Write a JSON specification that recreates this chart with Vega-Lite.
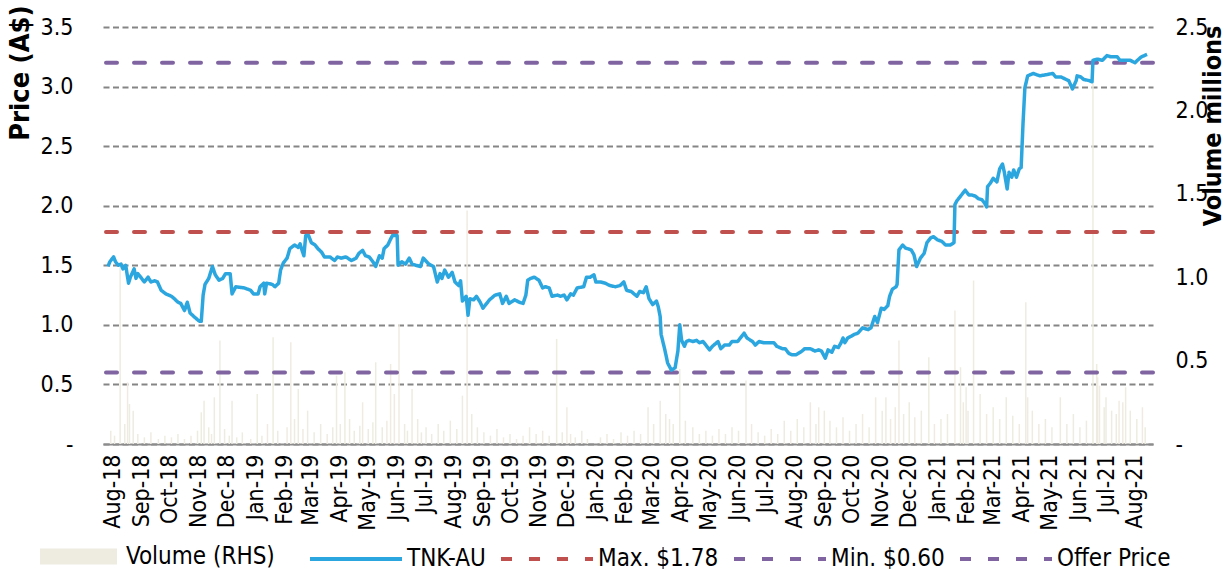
{
  "$schema": "https://vega.github.io/schema/vega-lite/v6.json",
  "width": 1050,
  "height": 417,
  "autosize": "none",
  "padding": {"left": 103, "top": 27, "right": 71, "bottom": 125},
  "background": "white",
  "config": {
    "view": {"stroke": null},
    "font": "DejaVu Sans Condensed",
    "axis": {"labelColor": "#000000", "titleColor": "#000000", "labelFont": "DejaVu Sans Condensed", "labelFontSize": 23}
  },
  "datasets": {
    "levels": [
      {"series": "Max. $1.78", "value": 1.78},
      {"series": "Min. $0.60", "value": 0.6},
      {"series": "Offer Price", "value": 3.2}
    ],
    "price": [
      {"date": "2018-07-27", "price": 1.49}, {"date": "2018-07-29", "price": 1.53}, {"date": "2018-08-02", "price": 1.57},
      {"date": "2018-08-04", "price": 1.53}, {"date": "2018-08-07", "price": 1.50}, {"date": "2018-08-10", "price": 1.51},
      {"date": "2018-08-12", "price": 1.47}, {"date": "2018-08-15", "price": 1.50}, {"date": "2018-08-18", "price": 1.35},
      {"date": "2018-08-20", "price": 1.40}, {"date": "2018-08-24", "price": 1.47}, {"date": "2018-08-26", "price": 1.39},
      {"date": "2018-08-28", "price": 1.43}, {"date": "2018-09-01", "price": 1.39}, {"date": "2018-09-04", "price": 1.36},
      {"date": "2018-09-08", "price": 1.40}, {"date": "2018-09-11", "price": 1.36}, {"date": "2018-09-15", "price": 1.37},
      {"date": "2018-09-18", "price": 1.36}, {"date": "2018-09-22", "price": 1.29}, {"date": "2018-09-27", "price": 1.26},
      {"date": "2018-10-03", "price": 1.24}, {"date": "2018-10-06", "price": 1.22}, {"date": "2018-10-10", "price": 1.19},
      {"date": "2018-10-13", "price": 1.18}, {"date": "2018-10-17", "price": 1.12}, {"date": "2018-10-20", "price": 1.19},
      {"date": "2018-10-23", "price": 1.10}, {"date": "2018-10-27", "price": 1.07}, {"date": "2018-11-02", "price": 1.03},
      {"date": "2018-11-04", "price": 1.03}, {"date": "2018-11-06", "price": 1.25}, {"date": "2018-11-08", "price": 1.34},
      {"date": "2018-11-12", "price": 1.39}, {"date": "2018-11-16", "price": 1.49}, {"date": "2018-11-19", "price": 1.42},
      {"date": "2018-11-23", "price": 1.375}, {"date": "2018-11-27", "price": 1.39}, {"date": "2018-11-30", "price": 1.43},
      {"date": "2018-12-05", "price": 1.43}, {"date": "2018-12-07", "price": 1.26}, {"date": "2018-12-11", "price": 1.32},
      {"date": "2018-12-20", "price": 1.31}, {"date": "2018-12-27", "price": 1.29}, {"date": "2018-12-30", "price": 1.26},
      {"date": "2019-01-04", "price": 1.26}, {"date": "2019-01-06", "price": 1.32}, {"date": "2019-01-10", "price": 1.35},
      {"date": "2019-01-11", "price": 1.26}, {"date": "2019-01-13", "price": 1.35}, {"date": "2019-01-19", "price": 1.34},
      {"date": "2019-01-22", "price": 1.32}, {"date": "2019-01-26", "price": 1.35}, {"date": "2019-01-28", "price": 1.46},
      {"date": "2019-01-31", "price": 1.52}, {"date": "2019-02-04", "price": 1.56}, {"date": "2019-02-07", "price": 1.64},
      {"date": "2019-02-12", "price": 1.67}, {"date": "2019-02-16", "price": 1.65}, {"date": "2019-02-18", "price": 1.68},
      {"date": "2019-02-19", "price": 1.65}, {"date": "2019-02-22", "price": 1.58}, {"date": "2019-02-24", "price": 1.75},
      {"date": "2019-02-27", "price": 1.75}, {"date": "2019-03-02", "price": 1.69}, {"date": "2019-03-06", "price": 1.67},
      {"date": "2019-03-09", "price": 1.64}, {"date": "2019-03-13", "price": 1.61}, {"date": "2019-03-16", "price": 1.57},
      {"date": "2019-03-22", "price": 1.57}, {"date": "2019-03-27", "price": 1.54}, {"date": "2019-03-30", "price": 1.57},
      {"date": "2019-04-03", "price": 1.56}, {"date": "2019-04-08", "price": 1.57}, {"date": "2019-04-14", "price": 1.54},
      {"date": "2019-04-19", "price": 1.56}, {"date": "2019-04-22", "price": 1.60}, {"date": "2019-04-26", "price": 1.625},
      {"date": "2019-04-29", "price": 1.58}, {"date": "2019-05-03", "price": 1.57}, {"date": "2019-05-07", "price": 1.53},
      {"date": "2019-05-10", "price": 1.49}, {"date": "2019-05-14", "price": 1.58}, {"date": "2019-05-17", "price": 1.56},
      {"date": "2019-05-19", "price": 1.64}, {"date": "2019-05-23", "price": 1.67}, {"date": "2019-05-26", "price": 1.72},
      {"date": "2019-05-28", "price": 1.75}, {"date": "2019-06-02", "price": 1.75}, {"date": "2019-06-03", "price": 1.50},
      {"date": "2019-06-07", "price": 1.53}, {"date": "2019-06-11", "price": 1.51}, {"date": "2019-06-15", "price": 1.56},
      {"date": "2019-06-18", "price": 1.51}, {"date": "2019-06-22", "price": 1.50}, {"date": "2019-06-27", "price": 1.49},
      {"date": "2019-06-30", "price": 1.56}, {"date": "2019-07-06", "price": 1.51}, {"date": "2019-07-11", "price": 1.49},
      {"date": "2019-07-15", "price": 1.36}, {"date": "2019-07-18", "price": 1.43}, {"date": "2019-07-20", "price": 1.39},
      {"date": "2019-07-23", "price": 1.46}, {"date": "2019-07-27", "price": 1.40}, {"date": "2019-07-31", "price": 1.44},
      {"date": "2019-08-03", "price": 1.36}, {"date": "2019-08-07", "price": 1.33}, {"date": "2019-08-09", "price": 1.37},
      {"date": "2019-08-11", "price": 1.20}, {"date": "2019-08-15", "price": 1.24}, {"date": "2019-08-17", "price": 1.08},
      {"date": "2019-08-19", "price": 1.22}, {"date": "2019-08-23", "price": 1.21}, {"date": "2019-08-26", "price": 1.24},
      {"date": "2019-08-30", "price": 1.19}, {"date": "2019-09-02", "price": 1.14}, {"date": "2019-09-06", "price": 1.18},
      {"date": "2019-09-09", "price": 1.21}, {"date": "2019-09-15", "price": 1.25}, {"date": "2019-09-20", "price": 1.26},
      {"date": "2019-09-23", "price": 1.18}, {"date": "2019-09-27", "price": 1.24}, {"date": "2019-09-30", "price": 1.18},
      {"date": "2019-10-06", "price": 1.21}, {"date": "2019-10-11", "price": 1.19}, {"date": "2019-10-15", "price": 1.18},
      {"date": "2019-10-18", "price": 1.25}, {"date": "2019-10-20", "price": 1.375}, {"date": "2019-10-23", "price": 1.39},
      {"date": "2019-10-27", "price": 1.40}, {"date": "2019-11-01", "price": 1.375}, {"date": "2019-11-05", "price": 1.31},
      {"date": "2019-11-08", "price": 1.32}, {"date": "2019-11-12", "price": 1.31}, {"date": "2019-11-15", "price": 1.24},
      {"date": "2019-11-21", "price": 1.25}, {"date": "2019-11-24", "price": 1.24}, {"date": "2019-11-28", "price": 1.25},
      {"date": "2019-12-01", "price": 1.21}, {"date": "2019-12-05", "price": 1.26}, {"date": "2019-12-08", "price": 1.25},
      {"date": "2019-12-12", "price": 1.31}, {"date": "2019-12-19", "price": 1.32}, {"date": "2019-12-22", "price": 1.40},
      {"date": "2019-12-26", "price": 1.40}, {"date": "2019-12-30", "price": 1.42}, {"date": "2020-01-01", "price": 1.36},
      {"date": "2020-01-06", "price": 1.36}, {"date": "2020-01-11", "price": 1.35}, {"date": "2020-01-16", "price": 1.33},
      {"date": "2020-01-22", "price": 1.32}, {"date": "2020-01-27", "price": 1.33}, {"date": "2020-01-31", "price": 1.36},
      {"date": "2020-02-03", "price": 1.29}, {"date": "2020-02-08", "price": 1.28}, {"date": "2020-02-14", "price": 1.24},
      {"date": "2020-02-17", "price": 1.28}, {"date": "2020-02-21", "price": 1.27}, {"date": "2020-02-24", "price": 1.32},
      {"date": "2020-02-27", "price": 1.22}, {"date": "2020-03-02", "price": 1.17}, {"date": "2020-03-06", "price": 1.20},
      {"date": "2020-03-08", "price": 1.15}, {"date": "2020-03-10", "price": 1.07}, {"date": "2020-03-11", "price": 0.92},
      {"date": "2020-03-15", "price": 0.79}, {"date": "2020-03-18", "price": 0.68}, {"date": "2020-03-22", "price": 0.62},
      {"date": "2020-03-26", "price": 0.64}, {"date": "2020-03-29", "price": 0.78}, {"date": "2020-03-31", "price": 1.00},
      {"date": "2020-04-02", "price": 0.87}, {"date": "2020-04-05", "price": 0.82}, {"date": "2020-04-07", "price": 0.86},
      {"date": "2020-04-10", "price": 0.87}, {"date": "2020-04-14", "price": 0.86}, {"date": "2020-04-18", "price": 0.87},
      {"date": "2020-04-21", "price": 0.85}, {"date": "2020-04-25", "price": 0.86}, {"date": "2020-04-28", "price": 0.83},
      {"date": "2020-05-02", "price": 0.79}, {"date": "2020-05-05", "price": 0.82}, {"date": "2020-05-11", "price": 0.86},
      {"date": "2020-05-14", "price": 0.80}, {"date": "2020-05-18", "price": 0.83}, {"date": "2020-05-23", "price": 0.83},
      {"date": "2020-05-26", "price": 0.86}, {"date": "2020-06-01", "price": 0.86}, {"date": "2020-06-04", "price": 0.89},
      {"date": "2020-06-08", "price": 0.93}, {"date": "2020-06-11", "price": 0.89}, {"date": "2020-06-17", "price": 0.86},
      {"date": "2020-06-20", "price": 0.83}, {"date": "2020-06-24", "price": 0.86}, {"date": "2020-06-29", "price": 0.85},
      {"date": "2020-07-04", "price": 0.85}, {"date": "2020-07-10", "price": 0.85}, {"date": "2020-07-13", "price": 0.82},
      {"date": "2020-07-19", "price": 0.80}, {"date": "2020-07-22", "price": 0.80}, {"date": "2020-07-26", "price": 0.76},
      {"date": "2020-07-29", "price": 0.75}, {"date": "2020-08-03", "price": 0.75}, {"date": "2020-08-09", "price": 0.78},
      {"date": "2020-08-12", "price": 0.80}, {"date": "2020-08-18", "price": 0.80}, {"date": "2020-08-23", "price": 0.78},
      {"date": "2020-08-27", "price": 0.79}, {"date": "2020-08-30", "price": 0.78}, {"date": "2020-09-03", "price": 0.72},
      {"date": "2020-09-06", "price": 0.79}, {"date": "2020-09-10", "price": 0.77}, {"date": "2020-09-13", "price": 0.82},
      {"date": "2020-09-17", "price": 0.81}, {"date": "2020-09-20", "price": 0.85}, {"date": "2020-09-22", "price": 0.89},
      {"date": "2020-09-24", "price": 0.85}, {"date": "2020-09-27", "price": 0.89}, {"date": "2020-10-01", "price": 0.905},
      {"date": "2020-10-04", "price": 0.92}, {"date": "2020-10-08", "price": 0.93}, {"date": "2020-10-13", "price": 0.975},
      {"date": "2020-10-19", "price": 0.96}, {"date": "2020-10-22", "price": 0.975}, {"date": "2020-10-26", "price": 1.07},
      {"date": "2020-10-29", "price": 1.02}, {"date": "2020-11-02", "price": 1.14}, {"date": "2020-11-05", "price": 1.13},
      {"date": "2020-11-09", "price": 1.16}, {"date": "2020-11-11", "price": 1.24}, {"date": "2020-11-14", "price": 1.30},
      {"date": "2020-11-18", "price": 1.32}, {"date": "2020-11-19", "price": 1.34}, {"date": "2020-11-21", "price": 1.63},
      {"date": "2020-11-25", "price": 1.67}, {"date": "2020-11-28", "price": 1.645}, {"date": "2020-12-04", "price": 1.63},
      {"date": "2020-12-07", "price": 1.59}, {"date": "2020-12-10", "price": 1.49}, {"date": "2020-12-14", "price": 1.56},
      {"date": "2020-12-18", "price": 1.60}, {"date": "2020-12-21", "price": 1.69}, {"date": "2020-12-25", "price": 1.73},
      {"date": "2020-12-28", "price": 1.74}, {"date": "2021-01-01", "price": 1.715}, {"date": "2021-01-06", "price": 1.70},
      {"date": "2021-01-10", "price": 1.67}, {"date": "2021-01-15", "price": 1.67}, {"date": "2021-01-19", "price": 1.69},
      {"date": "2021-01-20", "price": 2.01}, {"date": "2021-01-22", "price": 2.04}, {"date": "2021-01-26", "price": 2.08},
      {"date": "2021-01-31", "price": 2.13}, {"date": "2021-02-04", "price": 2.09}, {"date": "2021-02-07", "price": 2.09},
      {"date": "2021-02-11", "price": 2.08}, {"date": "2021-02-14", "price": 2.06}, {"date": "2021-02-18", "price": 2.05},
      {"date": "2021-02-21", "price": 2.02}, {"date": "2021-02-23", "price": 1.99}, {"date": "2021-02-24", "price": 2.16},
      {"date": "2021-02-27", "price": 2.19}, {"date": "2021-03-02", "price": 2.23}, {"date": "2021-03-06", "price": 2.20},
      {"date": "2021-03-09", "price": 2.31}, {"date": "2021-03-12", "price": 2.35}, {"date": "2021-03-14", "price": 2.28},
      {"date": "2021-03-17", "price": 2.14}, {"date": "2021-03-19", "price": 2.28}, {"date": "2021-03-22", "price": 2.24},
      {"date": "2021-03-24", "price": 2.30}, {"date": "2021-03-27", "price": 2.24}, {"date": "2021-03-30", "price": 2.31},
      {"date": "2021-04-01", "price": 2.32}, {"date": "2021-04-03", "price": 2.69}, {"date": "2021-04-05", "price": 2.99},
      {"date": "2021-04-08", "price": 3.09}, {"date": "2021-04-14", "price": 3.11}, {"date": "2021-04-21", "price": 3.09},
      {"date": "2021-04-28", "price": 3.10}, {"date": "2021-05-05", "price": 3.11}, {"date": "2021-05-08", "price": 3.08},
      {"date": "2021-05-14", "price": 3.08}, {"date": "2021-05-19", "price": 3.06}, {"date": "2021-05-22", "price": 3.05},
      {"date": "2021-05-26", "price": 2.98}, {"date": "2021-05-30", "price": 3.05}, {"date": "2021-05-31", "price": 3.09},
      {"date": "2021-06-04", "price": 3.08}, {"date": "2021-06-07", "price": 3.06}, {"date": "2021-06-13", "price": 3.05},
      {"date": "2021-06-16", "price": 3.04}, {"date": "2021-06-17", "price": 3.22}, {"date": "2021-06-22", "price": 3.23},
      {"date": "2021-06-27", "price": 3.22}, {"date": "2021-07-02", "price": 3.26}, {"date": "2021-07-06", "price": 3.25},
      {"date": "2021-07-09", "price": 3.25}, {"date": "2021-07-13", "price": 3.25}, {"date": "2021-07-16", "price": 3.22},
      {"date": "2021-07-22", "price": 3.22}, {"date": "2021-07-27", "price": 3.22}, {"date": "2021-08-01", "price": 3.20},
      {"date": "2021-08-05", "price": 3.23}, {"date": "2021-08-08", "price": 3.25}, {"date": "2021-08-14", "price": 3.27}
    ],
    "volume": [
      {"date": "2018-07-30", "vol": 0.08}, {"date": "2018-08-03", "vol": 0.05}, {"date": "2018-08-09", "vol": 1.06},
      {"date": "2018-08-14", "vol": 0.12}, {"date": "2018-08-17", "vol": 0.37}, {"date": "2018-08-19", "vol": 0.24},
      {"date": "2018-08-23", "vol": 0.2}, {"date": "2018-08-28", "vol": 0.06}, {"date": "2018-09-04", "vol": 0.04},
      {"date": "2018-09-11", "vol": 0.07}, {"date": "2018-09-19", "vol": 0.03}, {"date": "2018-09-26", "vol": 0.05},
      {"date": "2018-10-03", "vol": 0.04}, {"date": "2018-10-10", "vol": 0.06}, {"date": "2018-10-17", "vol": 0.03},
      {"date": "2018-10-24", "vol": 0.05}, {"date": "2018-10-31", "vol": 0.08}, {"date": "2018-11-04", "vol": 0.19},
      {"date": "2018-11-07", "vol": 0.26}, {"date": "2018-11-12", "vol": 0.1}, {"date": "2018-11-15", "vol": 0.06},
      {"date": "2018-11-18", "vol": 0.28}, {"date": "2018-11-24", "vol": 0.62}, {"date": "2018-11-29", "vol": 0.09},
      {"date": "2018-12-04", "vol": 0.05}, {"date": "2018-12-07", "vol": 0.26}, {"date": "2018-12-12", "vol": 0.04},
      {"date": "2018-12-18", "vol": 0.07}, {"date": "2018-12-27", "vol": 0.03}, {"date": "2019-01-03", "vol": 0.3},
      {"date": "2019-01-08", "vol": 0.05}, {"date": "2019-01-14", "vol": 0.12}, {"date": "2019-01-20", "vol": 0.64},
      {"date": "2019-01-25", "vol": 0.08}, {"date": "2019-02-04", "vol": 0.1}, {"date": "2019-02-08", "vol": 0.61},
      {"date": "2019-02-12", "vol": 0.15}, {"date": "2019-02-16", "vol": 0.33}, {"date": "2019-02-21", "vol": 0.09},
      {"date": "2019-02-26", "vol": 0.2}, {"date": "2019-03-05", "vol": 0.07}, {"date": "2019-03-12", "vol": 0.12},
      {"date": "2019-03-19", "vol": 0.06}, {"date": "2019-03-25", "vol": 0.1}, {"date": "2019-03-29", "vol": 0.41},
      {"date": "2019-04-02", "vol": 0.12}, {"date": "2019-04-07", "vol": 0.43}, {"date": "2019-04-12", "vol": 0.15},
      {"date": "2019-04-17", "vol": 0.08}, {"date": "2019-04-23", "vol": 0.11}, {"date": "2019-04-26", "vol": 0.25},
      {"date": "2019-05-02", "vol": 0.09}, {"date": "2019-05-07", "vol": 0.13}, {"date": "2019-05-10", "vol": 0.49},
      {"date": "2019-05-17", "vol": 0.1}, {"date": "2019-05-22", "vol": 0.14}, {"date": "2019-05-26", "vol": 0.48},
      {"date": "2019-05-30", "vol": 0.3}, {"date": "2019-06-04", "vol": 0.72}, {"date": "2019-06-10", "vol": 0.12},
      {"date": "2019-06-13", "vol": 0.08}, {"date": "2019-06-18", "vol": 0.33}, {"date": "2019-06-24", "vol": 0.15},
      {"date": "2019-06-28", "vol": 0.07}, {"date": "2019-07-03", "vol": 0.1}, {"date": "2019-07-09", "vol": 0.06},
      {"date": "2019-07-16", "vol": 0.12}, {"date": "2019-07-22", "vol": 0.08}, {"date": "2019-07-29", "vol": 0.14},
      {"date": "2019-08-05", "vol": 0.09}, {"date": "2019-08-11", "vol": 0.29}, {"date": "2019-08-16", "vol": 1.4},
      {"date": "2019-08-21", "vol": 0.18}, {"date": "2019-08-27", "vol": 0.1}, {"date": "2019-09-03", "vol": 0.07},
      {"date": "2019-09-10", "vol": 0.05}, {"date": "2019-09-17", "vol": 0.09}, {"date": "2019-09-24", "vol": 0.04},
      {"date": "2019-10-01", "vol": 0.06}, {"date": "2019-10-08", "vol": 0.03}, {"date": "2019-10-15", "vol": 0.05},
      {"date": "2019-10-22", "vol": 0.1}, {"date": "2019-10-29", "vol": 0.06}, {"date": "2019-11-05", "vol": 0.08},
      {"date": "2019-11-12", "vol": 0.05}, {"date": "2019-11-20", "vol": 0.63}, {"date": "2019-11-26", "vol": 0.07},
      {"date": "2019-12-01", "vol": 0.22}, {"date": "2019-12-05", "vol": 0.06}, {"date": "2019-12-10", "vol": 0.04},
      {"date": "2019-12-17", "vol": 0.08}, {"date": "2019-12-23", "vol": 0.03}, {"date": "2020-01-06", "vol": 0.04},
      {"date": "2020-01-13", "vol": 0.06}, {"date": "2020-01-20", "vol": 0.03}, {"date": "2020-01-28", "vol": 0.07},
      {"date": "2020-02-04", "vol": 0.05}, {"date": "2020-02-11", "vol": 0.08}, {"date": "2020-02-18", "vol": 0.06},
      {"date": "2020-02-26", "vol": 0.22}, {"date": "2020-03-03", "vol": 0.12}, {"date": "2020-03-10", "vol": 0.26},
      {"date": "2020-03-16", "vol": 0.18}, {"date": "2020-03-20", "vol": 0.15}, {"date": "2020-03-24", "vol": 0.12},
      {"date": "2020-03-31", "vol": 0.45}, {"date": "2020-04-06", "vol": 0.14}, {"date": "2020-04-14", "vol": 0.1},
      {"date": "2020-04-21", "vol": 0.06}, {"date": "2020-04-28", "vol": 0.08}, {"date": "2020-05-05", "vol": 0.05},
      {"date": "2020-05-12", "vol": 0.09}, {"date": "2020-05-19", "vol": 0.06}, {"date": "2020-05-26", "vol": 0.1},
      {"date": "2020-06-02", "vol": 0.08}, {"date": "2020-06-10", "vol": 0.38}, {"date": "2020-06-16", "vol": 0.12},
      {"date": "2020-06-23", "vol": 0.07}, {"date": "2020-06-30", "vol": 0.05}, {"date": "2020-07-07", "vol": 0.09},
      {"date": "2020-07-14", "vol": 0.06}, {"date": "2020-07-21", "vol": 0.14}, {"date": "2020-07-28", "vol": 0.08},
      {"date": "2020-08-04", "vol": 0.15}, {"date": "2020-08-11", "vol": 0.1}, {"date": "2020-08-18", "vol": 0.25},
      {"date": "2020-08-24", "vol": 0.12}, {"date": "2020-08-27", "vol": 0.22}, {"date": "2020-09-02", "vol": 0.2},
      {"date": "2020-09-08", "vol": 0.14}, {"date": "2020-09-15", "vol": 0.1}, {"date": "2020-09-22", "vol": 0.16},
      {"date": "2020-09-29", "vol": 0.08}, {"date": "2020-10-06", "vol": 0.12}, {"date": "2020-10-13", "vol": 0.18},
      {"date": "2020-10-20", "vol": 0.1}, {"date": "2020-10-27", "vol": 0.28}, {"date": "2020-11-03", "vol": 0.2},
      {"date": "2020-11-07", "vol": 0.28}, {"date": "2020-11-12", "vol": 0.15}, {"date": "2020-11-17", "vol": 0.22},
      {"date": "2020-11-21", "vol": 0.62}, {"date": "2020-11-26", "vol": 0.18}, {"date": "2020-12-02", "vol": 0.25},
      {"date": "2020-12-08", "vol": 0.16}, {"date": "2020-12-15", "vol": 0.2}, {"date": "2020-12-23", "vol": 0.52},
      {"date": "2020-12-29", "vol": 0.12}, {"date": "2021-01-05", "vol": 0.15}, {"date": "2021-01-12", "vol": 0.18},
      {"date": "2021-01-20", "vol": 0.8}, {"date": "2021-01-26", "vol": 0.46}, {"date": "2021-01-29", "vol": 0.25},
      {"date": "2021-02-01", "vol": 0.34}, {"date": "2021-02-03", "vol": 0.2}, {"date": "2021-02-09", "vol": 0.98},
      {"date": "2021-02-16", "vol": 0.3}, {"date": "2021-02-23", "vol": 0.18}, {"date": "2021-03-02", "vol": 0.22},
      {"date": "2021-03-09", "vol": 0.15}, {"date": "2021-03-16", "vol": 0.28}, {"date": "2021-03-23", "vol": 0.17},
      {"date": "2021-03-30", "vol": 0.12}, {"date": "2021-04-06", "vol": 0.85}, {"date": "2021-04-08", "vol": 0.28},
      {"date": "2021-04-13", "vol": 0.2}, {"date": "2021-04-20", "vol": 0.12}, {"date": "2021-04-27", "vol": 0.15},
      {"date": "2021-05-04", "vol": 0.1}, {"date": "2021-05-13", "vol": 0.28}, {"date": "2021-05-20", "vol": 0.12},
      {"date": "2021-05-27", "vol": 0.18}, {"date": "2021-06-03", "vol": 0.1}, {"date": "2021-06-10", "vol": 0.14},
      {"date": "2021-06-17", "vol": 2.2}, {"date": "2021-06-21", "vol": 0.48}, {"date": "2021-06-22", "vol": 0.4},
      {"date": "2021-06-24", "vol": 0.35}, {"date": "2021-06-29", "vol": 0.22}, {"date": "2021-07-01", "vol": 0.28},
      {"date": "2021-07-07", "vol": 0.2}, {"date": "2021-07-12", "vol": 0.18}, {"date": "2021-07-15", "vol": 0.26},
      {"date": "2021-07-19", "vol": 0.25}, {"date": "2021-07-22", "vol": 0.34}, {"date": "2021-07-27", "vol": 0.2},
      {"date": "2021-08-03", "vol": 0.15}, {"date": "2021-08-09", "vol": 0.22}, {"date": "2021-08-12", "vol": 0.1}
    ]
  },
  "layer": [
    {
      "data": {"name": "volume"},
      "mark": {"type": "bar", "width": 1.5},
      "encoding": {
        "x": {
          "field": "date", "type": "temporal",
          "scale": {"domain": [{"year": 2018, "month": 7, "date": 27, "utc": true}, {"year": 2021, "month": 8, "date": 15, "utc": true}]},
          "axis": {
            "title": null, "format": "%b-%y", "tickCount": {"interval": "month", "step": 1},
            "labelAngle": -90, "labelPadding": 10, "labelFlush": false, "labelOverlap": false,
            "ticks": false, "grid": false, "domain": true, "domainColor": "#8c8c8c", "domainWidth": 2
          }
        },
        "y": {
          "field": "vol", "type": "quantitative",
          "scale": {"domain": [0, 2.5]},
          "axis": {
            "orient": "right", "values": [0, 0.5, 1, 1.5, 2, 2.5],
            "labelExpr": "datum.value == 0 ? '-' : format(datum.value, '.1f')",
            "labelPadding": 22, "ticks": false, "domain": false, "grid": false,
            "title": "Volume millions", "titleFont": "DejaVu Sans Condensed", "titleFontWeight": "bold", "titleFontSize": 25,
            "titleAngle": -90, "titleAlign": "right", "titleBaseline": "middle", "titleX": 59, "titleY": -2
          }
        },
        "fill": {
          "datum": "Volume (RHS)", "type": "nominal",
          "scale": {"domain": ["Volume (RHS)"], "range": ["#eeece1"]},
          "legend": {
            "title": null, "orient": "none", "legendX": -63, "legendY": 491,
            "symbolType": "M-1,-0.21H1V0.21H-1Z", "symbolSize": 5929, "symbolStrokeWidth": 0,
            "labelFontSize": 24, "labelOffset": 9, "labelColor": "#000000", "padding": 0
          }
        }
      }
    },
    {
      "layer": [
        {
          "data": {"name": "levels"},
          "mark": {"type": "rule", "strokeWidth": 4, "strokeCap": "round"},
          "encoding": {
            "y": {
              "field": "value", "type": "quantitative",
              "scale": {"domain": [0, 3.5]},
              "axis": {
                "orient": "left", "values": [0, 0.5, 1, 1.5, 2, 2.5, 3, 3.5],
                "labelExpr": "datum.value == 0 ? '-' : format(datum.value, '.1f')",
                "labelPadding": 30, "ticks": false, "domain": false,
                "grid": true, "gridColor": "#858585", "gridWidth": 2, "gridDash": [6, 3.5],
                "title": "Price (A$)", "titleFont": "DejaVu Sans Condensed", "titleFontWeight": "bold", "titleFontSize": 27,
                "titleAngle": -90, "titleAlign": "right", "titleBaseline": "middle", "titleX": -83, "titleY": -22
              }
            },
            "color": {
              "field": "series", "type": "nominal",
              "scale": {"domain": ["TNK-AU", "Max. $1.78", "Min. $0.60", "Offer Price"], "range": ["#2ca6df", "#c0504d", "#8064a2", "#8064a2"]},
              "legend": {
                "title": null, "orient": "none", "direction": "horizontal", "legendX": 205, "legendY": 484,
                "symbolType": "stroke", "symbolSize": 8464, "symbolStrokeWidth": 4,
                "labelFontSize": 24, "labelOffset": 3, "columnPadding": 7, "labelColor": "#000000", "padding": 0, "labelLimit": 300
              }
            },
            "strokeDash": {
              "field": "series", "type": "nominal",
              "scale": {"domain": ["TNK-AU", "Max. $1.78", "Min. $0.60", "Offer Price"], "range": [[1, 0], [11, 17], [11, 17], [11, 17]]},
              "legend": {
                "title": null, "orient": "none", "direction": "horizontal", "legendX": 205, "legendY": 484,
                "symbolType": "stroke", "symbolSize": 8464, "symbolStrokeWidth": 4,
                "labelFontSize": 24, "labelOffset": 3, "columnPadding": 7, "labelColor": "#000000", "padding": 0, "labelLimit": 300
              }
            }
          }
        },
        {
          "data": {"name": "price"},
          "mark": {"type": "line", "strokeWidth": 3.5, "strokeJoin": "round"},
          "encoding": {
            "x": {"field": "date", "type": "temporal"},
            "y": {"field": "price", "type": "quantitative"},
            "color": {"datum": "TNK-AU", "type": "nominal"},
            "strokeDash": {"datum": "TNK-AU", "type": "nominal"}
          }
        }
      ]
    }
  ],
  "resolve": {"scale": {"y": "independent"}}
}
